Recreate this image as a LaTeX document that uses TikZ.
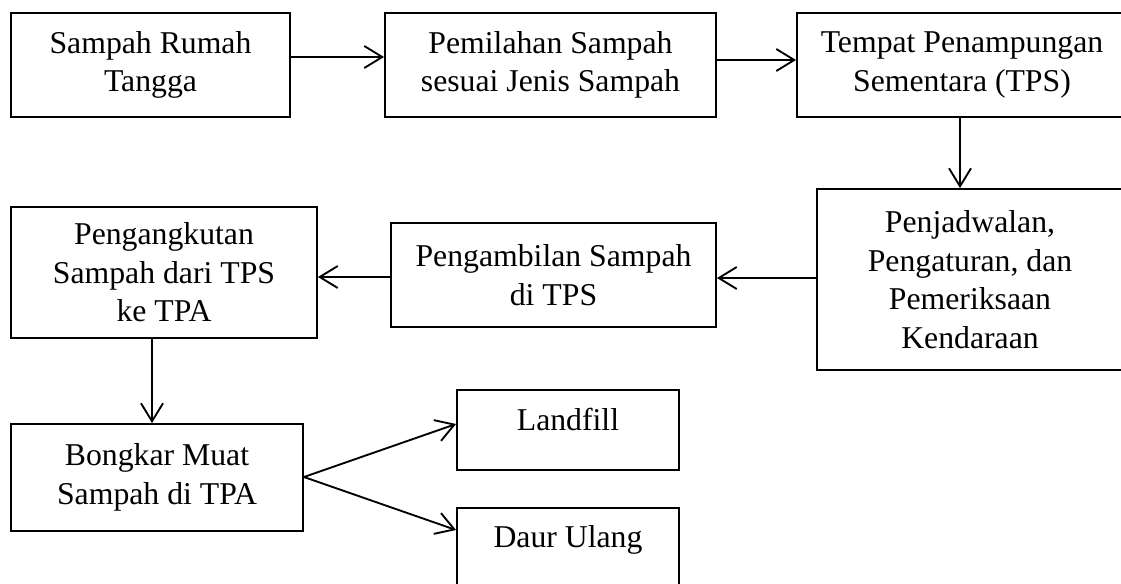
\documentclass[tikz,border=0pt]{standalone}
\usepackage{fontspec}
\setmainfont{Liberation Serif}
\usetikzlibrary{arrows.meta}
\tikzset{
  box/.style={draw, line width=1.4pt, align=center, inner sep=0pt,
    font=\fontsize{23.8}{28.9}\selectfont},
  lbl/.style={inner sep=0pt, anchor=base, font=\fontsize{23.8}{28.9}\selectfont},
  arr/.style={line width=1.4pt, -{Straight Barb[length=13.5pt,width=16.5pt,line width=1.4pt]}}
}
\begin{document}
\begin{tikzpicture}[x=0.75pt,y=-0.75pt]
\useasboundingbox (0,0) rectangle (1121,583);
\clip (0,0) rectangle (1121,583);
\node[box, minimum width=209.25pt, minimum height=78pt] (b1) at (150.5,65) {Sampah Rumah\\Tangga};
\node[box, minimum width=248.25pt, minimum height=78pt] (b2) at (550.5,65) {Pemilahan Sampah\\sesuai Jenis Sampah};
\node[box, minimum width=247.5pt, minimum height=78pt] (b3) at (962,65) {Tempat Penampungan\\Sementara (TPS)};
\node[box, minimum width=229.5pt, minimum height=135.75pt] (b4) at (970,279.5) {Penjadwalan,\\Pengaturan, dan\\Pemeriksaan\\Kendaraan};
\node[box, minimum width=243.75pt, minimum height=78pt] (b5) at (553.5,275) {Pengambilan Sampah\\di TPS};
\node[box, minimum width=229.5pt, minimum height=98.25pt] (b6) at (164,272.5) {Pengangkutan\\Sampah dari TPS\\ke TPA};
\node[box, minimum width=219pt, minimum height=80.25pt] (b7) at (157,477.5) {Bongkar Muat\\Sampah di TPA};
\node[box, minimum width=166.5pt, minimum height=60pt] (lf) at (568,430) {};
\node[lbl] (lft) at ([yshift=-30.75pt]lf.north) {Landfill};
\node[box, minimum width=166.5pt, minimum height=60pt] (du) at (568,548) {};
\node[lbl] (dut) at ([yshift=-30pt]du.north) {Daur Ulang};
\draw[arr] (b1.east |- 0,57) -- (b2.west |- 0,57);
\draw[arr] (b2.east |- 0,60) -- (b3.west |- 0,60);
\draw[arr] (b3.south -| 960,0) -- (b4.north -| 960,0);
\draw[arr] (b4.west |- 0,278) -- (b5.east |- 0,278);
\draw[arr] (b5.west |- 0,277) -- (b6.east |- 0,277);
\draw[arr] (b6.south -| 152,0) -- (b7.north -| 152,0);
\draw[arr] (b7.east |- 0,477) -- (lf.west |- 0,424);
\draw[arr] (b7.east |- 0,477) -- (du.west |- 0,530);
\end{tikzpicture}
\end{document}
